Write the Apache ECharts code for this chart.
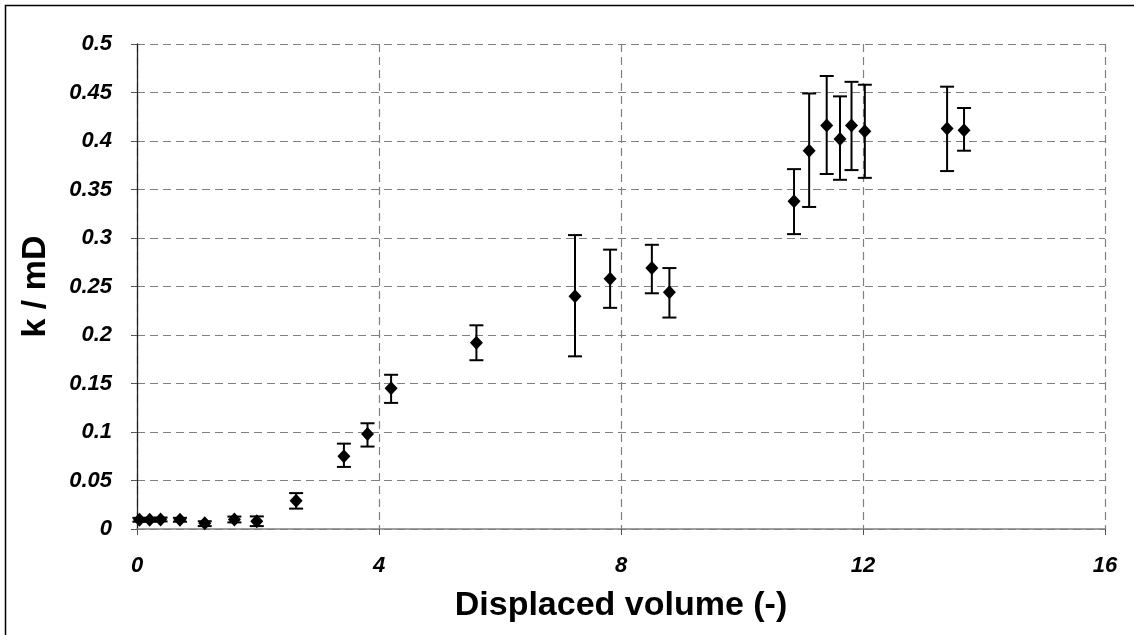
<!DOCTYPE html>
<html>
<head>
<meta charset="utf-8">
<script src="https://cdn.jsdelivr.net/npm/echarts@6/dist/echarts.min.js"></script>
<style>
  html, body { margin: 0; padding: 0; background: #fff; }
  #chart { width: 1134px; height: 635px; }
</style>
</head>
<body>
<div id="chart"></div>
<script>
// displaced volume (-)
var volume = [0.04, 0.21, 0.39, 0.71, 1.12, 1.61, 1.98, 2.63, 3.42, 3.81, 4.20, 5.61,
  7.24, 7.82, 8.51, 8.80, 10.86, 11.11, 11.40, 11.62, 11.81, 12.03, 13.39, 13.67];
// permeability k / mD
var kVal = [0.0095, 0.0095, 0.0098, 0.0095, 0.006, 0.0098, 0.008, 0.029, 0.075, 0.098, 0.145, 0.192,
  0.240, 0.258, 0.269, 0.244, 0.338, 0.390, 0.416, 0.402, 0.416, 0.410, 0.413, 0.411];
var kLow = [0.0075, 0.0075, 0.0078, 0.0075, 0.003, 0.0068, 0.003, 0.021, 0.064, 0.085, 0.130, 0.174,
  0.178, 0.228, 0.243, 0.218, 0.304, 0.332, 0.366, 0.360, 0.370, 0.362, 0.369, 0.390];
var kHigh = [0.0115, 0.0115, 0.0118, 0.0115, 0.008, 0.0128, 0.013, 0.037, 0.088, 0.109, 0.159, 0.210,
  0.303, 0.288, 0.293, 0.269, 0.371, 0.449, 0.467, 0.446, 0.461, 0.458, 0.456, 0.434];

var points = volume.map(function (v, i) { return [v, kVal[i]]; });
var bars = volume.map(function (v, i) { return [v, kLow[i], kHigh[i]]; });

var chart = echarts.init(document.getElementById("chart"));

var tickFont = {
  color: "#000",
  fontFamily: "Liberation Sans, Arial",
  fontWeight: "bold",
  fontStyle: "italic",
  fontSize: 22
};
var titleFont = {
  color: "#000",
  fontFamily: "Liberation Sans, Arial",
  fontWeight: "bold",
  fontSize: 34
};
var gridLine = { show: true, lineStyle: { color: "#808080", type: [8, 5], width: 1.2 } };

var option = {
  animation: false,
  backgroundColor: "#fff",
  graphic: [
    {
      type: "rect",
      shape: { x: 5.5, y: 5.5, width: 1140, height: 640 },
      style: { fill: "none", stroke: "#000", lineWidth: 1.5 },
      silent: true
    }
  ],
  grid: { left: 137, right: 29, top: 44, bottom: 106 },
  xAxis: {
    type: "value",
    min: 0,
    max: 16,
    interval: 4,
    name: "Displaced volume (-)",
    nameLocation: "middle",
    nameGap: 60,
    nameTextStyle: titleFont,
    axisLine: { onZero: false, lineStyle: { color: "#808080", width: 1.5 } },
    axisTick: { show: true, length: 6, lineStyle: { color: "#555" } },
    axisLabel: Object.assign({ margin: 26 }, tickFont),
    splitLine: gridLine
  },
  yAxis: {
    type: "value",
    min: 0,
    max: 0.5,
    interval: 0.05,
    name: "k / mD",
    nameLocation: "middle",
    nameGap: 84,
    nameRotate: 90,
    nameTextStyle: titleFont,
    axisLine: { show: true, lineStyle: { color: "#222", width: 1.3 } },
    axisTick: { show: true, length: 6, lineStyle: { color: "#555" } },
    axisLabel: Object.assign({
      margin: 25,
      formatter: function (v) { return String(parseFloat(v.toFixed(2))); }
    }, tickFont),
    splitLine: gridLine
  },
  series: [
    {
      name: "error",
      type: "custom",
      data: bars,
      z: 2,
      renderItem: function (params, api) {
        var x = api.value(0);
        var lo = api.coord([x, api.value(1)]);
        var hi = api.coord([x, api.value(2)]);
        var cap = 7;
        var st = { stroke: "#000", lineWidth: 2 };
        return {
          type: "group",
          children: [
            { type: "line", shape: { x1: lo[0], y1: lo[1], x2: hi[0], y2: hi[1] }, style: st },
            { type: "line", shape: { x1: hi[0] - cap, y1: hi[1], x2: hi[0] + cap, y2: hi[1] }, style: st },
            { type: "line", shape: { x1: lo[0] - cap, y1: lo[1], x2: lo[0] + cap, y2: lo[1] }, style: st }
          ]
        };
      }
    },
    {
      name: "k",
      type: "scatter",
      data: points,
      symbol: "diamond",
      symbolSize: [13, 14],
      z: 3,
      itemStyle: { color: "#000", opacity: 1 }
    }
  ]
};

chart.setOption(option);
</script>
</body>
</html>
